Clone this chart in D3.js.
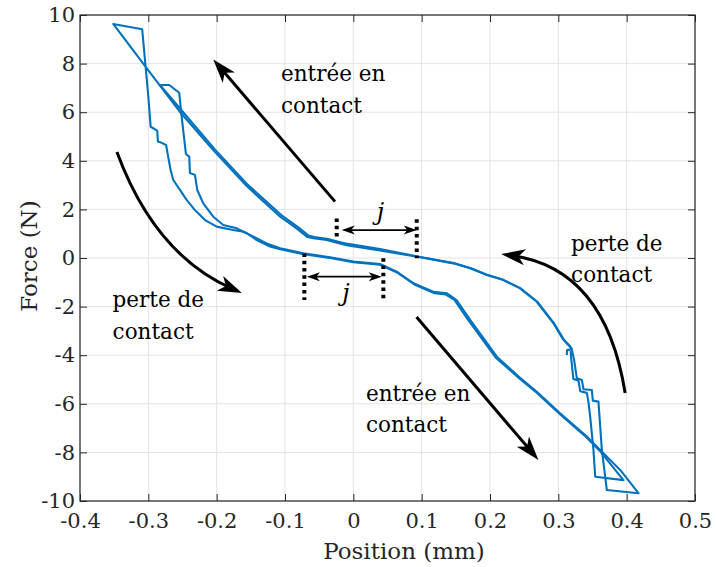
<!DOCTYPE html>
<html><head><meta charset="utf-8">
<script src="https://cdn.jsdelivr.net/npm/d3@7"></script>
<style>body{margin:0;background:#fff}</style>
</head><body><svg id="c" width="716" height="567"></svg>
<script>
// ---------- data ----------
const xTicks = [-0.4,-0.3,-0.2,-0.1,0,0.1,0.2,0.3,0.4,0.5];
const xTickLabels = ["-0.4","-0.3","-0.2","-0.1","0","0.1","0.2","0.3","0.4","0.5"];
const yTicks = [-10,-8,-6,-4,-2,0,2,4,6,8,10];
const yTickLabels = ["-10","-8","-6","-4","-2","0","2","4","6","8","10"];

// cycle 1 (outer loop), position in mm
const cycle1Pos = [0.3124,0.3128,0.3197,0.317,0.3075,0.293,0.2685,0.244,0.2195,0.1955,0.171,0.1465,0.098,0.039,-0.010,-0.024,-0.039,-0.0585,-0.068,-0.083,-0.107,-0.156,-0.205,-0.254,-0.3025,-0.3514,
 -0.309,-0.304,-0.300,-0.2966,-0.2928,-0.287,-0.286,-0.2805,-0.274,-0.271,-0.2674,-0.2635,-0.2537,-0.244,-0.232,-0.217,-0.200,-0.176,-0.161,-0.146,-0.127,-0.107,
 -0.073,-0.034,0,0.039,0.0635,0.088,0.117,0.137,0.151,0.171,0.210,0.244,0.2685,0.3026,0.3417,0.3612,0.3905,0.4173,
 0.371,0.3637,0.3587,0.3505,0.349,0.3368,0.3344,0.3271,0.3231,0.3197];
const cycle1Force = [-3.99,-3.79,-3.75,-3.65,-3.37,-2.69,-1.80,-1.25,-0.91,-0.70,-0.42,-0.22,0.03,0.31,0.53,0.63,0.74,0.81,0.88,1.22,1.70,2.96,4.44,6.02,7.81,9.63,
 9.41,7.87,6.64,5.40,5.34,5.24,4.79,4.74,4.65,4.17,3.62,3.21,2.80,2.39,1.98,1.56,1.29,1.15,1.08,0.88,0.60,0.40,
 0.19,0.03,-0.15,-0.25,-0.56,-1.04,-1.39,-1.45,-1.73,-2.55,-4.06,-4.93,-5.51,-6.39,-7.35,-7.90,-8.72,-9.68,
 -9.55,-7.90,-5.91,-5.87,-5.43,-5.40,-5.02,-4.95,-4.20,-3.75];

// cycle 2 (inner loop)
const cycle2Pos = [0.3197,0.317,0.3078,0.2932,0.2688,0.2443,0.2198,0.1955,0.1712,0.1467,0.0982,0.039,-0.008,-0.022,-0.037,-0.057,-0.066,-0.081,-0.105,-0.154,-0.203,-0.2515,-0.283,
 -0.2694,-0.2548,-0.2512,-0.245,-0.2401,-0.2391,-0.2318,-0.2284,-0.2196,-0.205,-0.1903,-0.1707,-0.1561,-0.1414,-0.122,-0.107,
 -0.073,-0.034,0,0.039,0.0655,0.090,0.119,0.135,0.148,0.168,0.2085,0.243,0.268,0.302,0.341,0.3605,0.3953,
 0.354,0.3514,0.3466,0.344,0.3417,0.332,0.3295,0.322,0.3185,0.318];
const cycle2Force = [-3.75,-3.62,-3.35,-2.67,-1.79,-1.24,-0.90,-0.69,-0.41,-0.21,0.04,0.37,0.58,0.67,0.78,0.86,0.93,1.27,1.76,3.00,4.48,6.08,7.12,
 7.12,6.80,5.81,4.28,4.17,3.50,3.42,2.80,2.25,1.70,1.36,1.22,1.02,0.74,0.47,0.36,
 0.16,0.0,-0.17,-0.28,-0.62,-1.10,-1.45,-1.50,-1.72,-2.55,-4.10,-4.96,-5.53,-6.42,-7.38,-7.93,-9.14,
 -9.00,-7.90,-6.53,-5.91,-5.55,-5.48,-5.05,-4.98,-4.05,-3.82];

// annotations (data coordinates)
const straightArrows = [
  {x1:-0.0268, y1:2.32, x2:-0.205, y2:8.17},
  {x1:0.0925, y1:-2.43, x2:0.2709, y2:-8.31}
];
const curvedArrows = [
  {p0:[-0.346,4.36], c:[-0.2903,0.12], p2:[-0.163,-1.44]},
  {p0:[0.3978,-5.56], c:[0.3685,-0.41], p2:[0.2163,0.16]}
];
const textLabels = [
  {x:-0.1059, y:7.28, lines:["entrée en","contact"]},
  {x:-0.3523, y:-2.02, lines:["perte de","contact"]},
  {x:0.3187, y:0.29, lines:["perte de","contact"]},
  {x:0.0186, y:-5.88, lines:["entrée en","contact"]}
];
const dottedLines = [
  {x:-0.0243, y1:1.63, y2:0.74},
  {x:0.0928, y1:1.59, y2:-0.01},
  {x:-0.0717, y1:0.19, y2:-1.73},
  {x:0.0439, y1:-0.01, y2:-1.73}
];
const doubleArrows = [
  {x1:-0.017, x2:0.0928, y:1.15},
  {x1:-0.068, x2:0.0416, y:-0.77}
];
const jLabels = [
  {x:0.0398, y:1.58},
  {x:-0.0107, y:-1.77}
];

// ---------- drawing ----------
const W = 716, H = 567;
const m = {l:80, r:21, t:15, b:66};
const svg = d3.select("#c");
const x = d3.scaleLinear().domain([-0.4,0.5]).range([m.l, W-m.r]);
const y = d3.scaleLinear().domain([-10,10]).range([H-m.b, m.t]);
const FONT = "DejaVu Serif";
const AX = "#262626";
const BLUE = "#0072BD";

// grid
const grid = svg.append("g");
grid.selectAll("line.gx").data(xTicks).join("line")
  .attr("x1",d=>x(d)).attr("x2",d=>x(d)).attr("y1",y(-10)).attr("y2",y(10))
  .attr("stroke","#e3e3e3").attr("stroke-width",1);
grid.selectAll("line.gy").data(yTicks).join("line")
  .attr("y1",d=>y(d)).attr("y2",d=>y(d)).attr("x1",x(-0.4)).attr("x2",x(0.5))
  .attr("stroke","#e3e3e3").attr("stroke-width",1);

// data lines
const line = d3.line().x(d=>x(d[0])).y(d=>y(d[1]));
[[cycle1Pos,cycle1Force],[cycle2Pos,cycle2Force]].forEach(([px,fy])=>{
  svg.append("path").datum(px.map((v,i)=>[v,fy[i]]))
    .attr("d",line).attr("fill","none").attr("stroke",BLUE)
    .attr("stroke-width",2.1).attr("stroke-linejoin","round");
});

// axes
function styleAxis(g){
  g.select(".domain").remove();
  g.selectAll(".tick line").attr("stroke",AX).attr("stroke-width",1);
  g.selectAll(".tick text").attr("fill",AX).style("font-family",FONT).style("font-size","21px");
}
const xb = svg.append("g").attr("transform",`translate(0,${y(-10)})`)
  .call(d3.axisBottom(x).tickValues(xTicks).tickFormat((d,i)=>xTickLabels[i]).tickSizeInner(-7).tickSizeOuter(0).tickPadding(12));
styleAxis(xb);
const xt = svg.append("g").attr("transform",`translate(0,${y(10)})`)
  .call(d3.axisTop(x).tickValues(xTicks).tickFormat("").tickSizeInner(-7).tickSizeOuter(0));
styleAxis(xt);
const yl = svg.append("g").attr("transform",`translate(${x(-0.4)},0)`)
  .call(d3.axisLeft(y).tickValues(yTicks).tickFormat((d,i)=>yTickLabels[i]).tickSizeInner(-7).tickSizeOuter(0).tickPadding(5));
styleAxis(yl);
const yr = svg.append("g").attr("transform",`translate(${x(0.5)},0)`)
  .call(d3.axisRight(y).tickValues(yTicks).tickFormat("").tickSizeInner(-7).tickSizeOuter(0));
styleAxis(yr);
svg.append("rect").attr("x",x(-0.4)).attr("y",y(10)).attr("width",x(0.5)-x(-0.4)).attr("height",y(-10)-y(10))
  .attr("fill","none").attr("stroke",AX).attr("stroke-width",1.2);

// axis titles
svg.append("text").attr("x",404).attr("y",559).attr("text-anchor","middle")
  .style("font-family",FONT).style("font-size","23px").attr("fill",AX).text("Position (mm)");
svg.append("text").attr("transform","translate(37,256) rotate(-90)").attr("text-anchor","middle")
  .style("font-family",FONT).style("font-size","23px").attr("fill",AX).text("Force (N)");

// arrowhead helper
function head(g, tx, ty, ux, uy, L, Wd, notch){
  const n = Math.hypot(ux,uy); ux/=n; uy/=n;
  const nx=-uy, ny=ux;
  const bx=tx-L*ux, by=ty-L*uy;
  const pts=[[tx,ty],[bx+Wd*nx,by+Wd*ny],[tx-(L-notch)*ux,ty-(L-notch)*uy],[bx-Wd*nx,by-Wd*ny]];
  g.append("polygon").attr("points",pts.map(p=>p.join(",")).join(" ")).attr("fill","#000");
}
const ann = svg.append("g");

// straight arrows
straightArrows.forEach(a=>{
  const X1=x(a.x1),Y1=y(a.y1),X2=x(a.x2),Y2=y(a.y2);
  const ux=X2-X1, uy=Y2-Y1, n=Math.hypot(ux,uy);
  ann.append("line").attr("x1",X1).attr("y1",Y1).attr("x2",X2-12*ux/n).attr("y2",Y2-12*uy/n)
    .attr("stroke","#000").attr("stroke-width",3);
  head(ann,X2,Y2,ux,uy,24,8,6.5);
});

// curved arrows
curvedArrows.forEach(a=>{
  const P0=[x(a.p0[0]),y(a.p0[1])], C=[x(a.c[0]),y(a.c[1])], P2=[x(a.p2[0]),y(a.p2[1])];
  const ux=P2[0]-C[0], uy=P2[1]-C[1], n=Math.hypot(ux,uy);
  const p = d3.path(); p.moveTo(P0[0],P0[1]); p.quadraticCurveTo(C[0],C[1],P2[0]-10*ux/n,P2[1]-10*uy/n);
  ann.append("path").attr("d",p.toString()).attr("fill","none").attr("stroke","#000").attr("stroke-width",3);
  head(ann,P2[0],P2[1],ux,uy,24,8,6.5);
});

// dotted verticals
dottedLines.forEach(d=>{
  ann.append("line").attr("x1",x(d.x)).attr("x2",x(d.x)).attr("y1",y(d.y1)).attr("y2",y(d.y2))
    .attr("stroke","#000").attr("stroke-width",4).attr("stroke-dasharray","3.5 3.8");
});

// double arrows
doubleArrows.forEach(d=>{
  const X1=x(d.x1),X2=x(d.x2),Y=y(d.y);
  ann.append("line").attr("x1",X1+6).attr("x2",X2-6).attr("y1",Y).attr("y2",Y).attr("stroke","#000").attr("stroke-width",1.8);
  head(ann,X1,Y,-1,0,13,4.5,3.5);
  head(ann,X2,Y,1,0,13,4.5,3.5);
});

// j labels
jLabels.forEach(d=>{
  ann.append("text").attr("x",x(d.x)).attr("y",y(d.y)).attr("text-anchor","middle")
    .style("font-family",FONT).style("font-style","italic").style("font-size","24px").attr("fill","#000").text("j");
});

// text labels
textLabels.forEach(t=>{
  const tx = ann.append("text").style("font-family",FONT).style("font-size","21.5px").attr("fill","#000");
  t.lines.forEach((s,i)=>{
    tx.append("tspan").attr("x",x(t.x)).attr("y",y(t.y)+i*31.5).text(s);
  });
});
</script></body></html>
